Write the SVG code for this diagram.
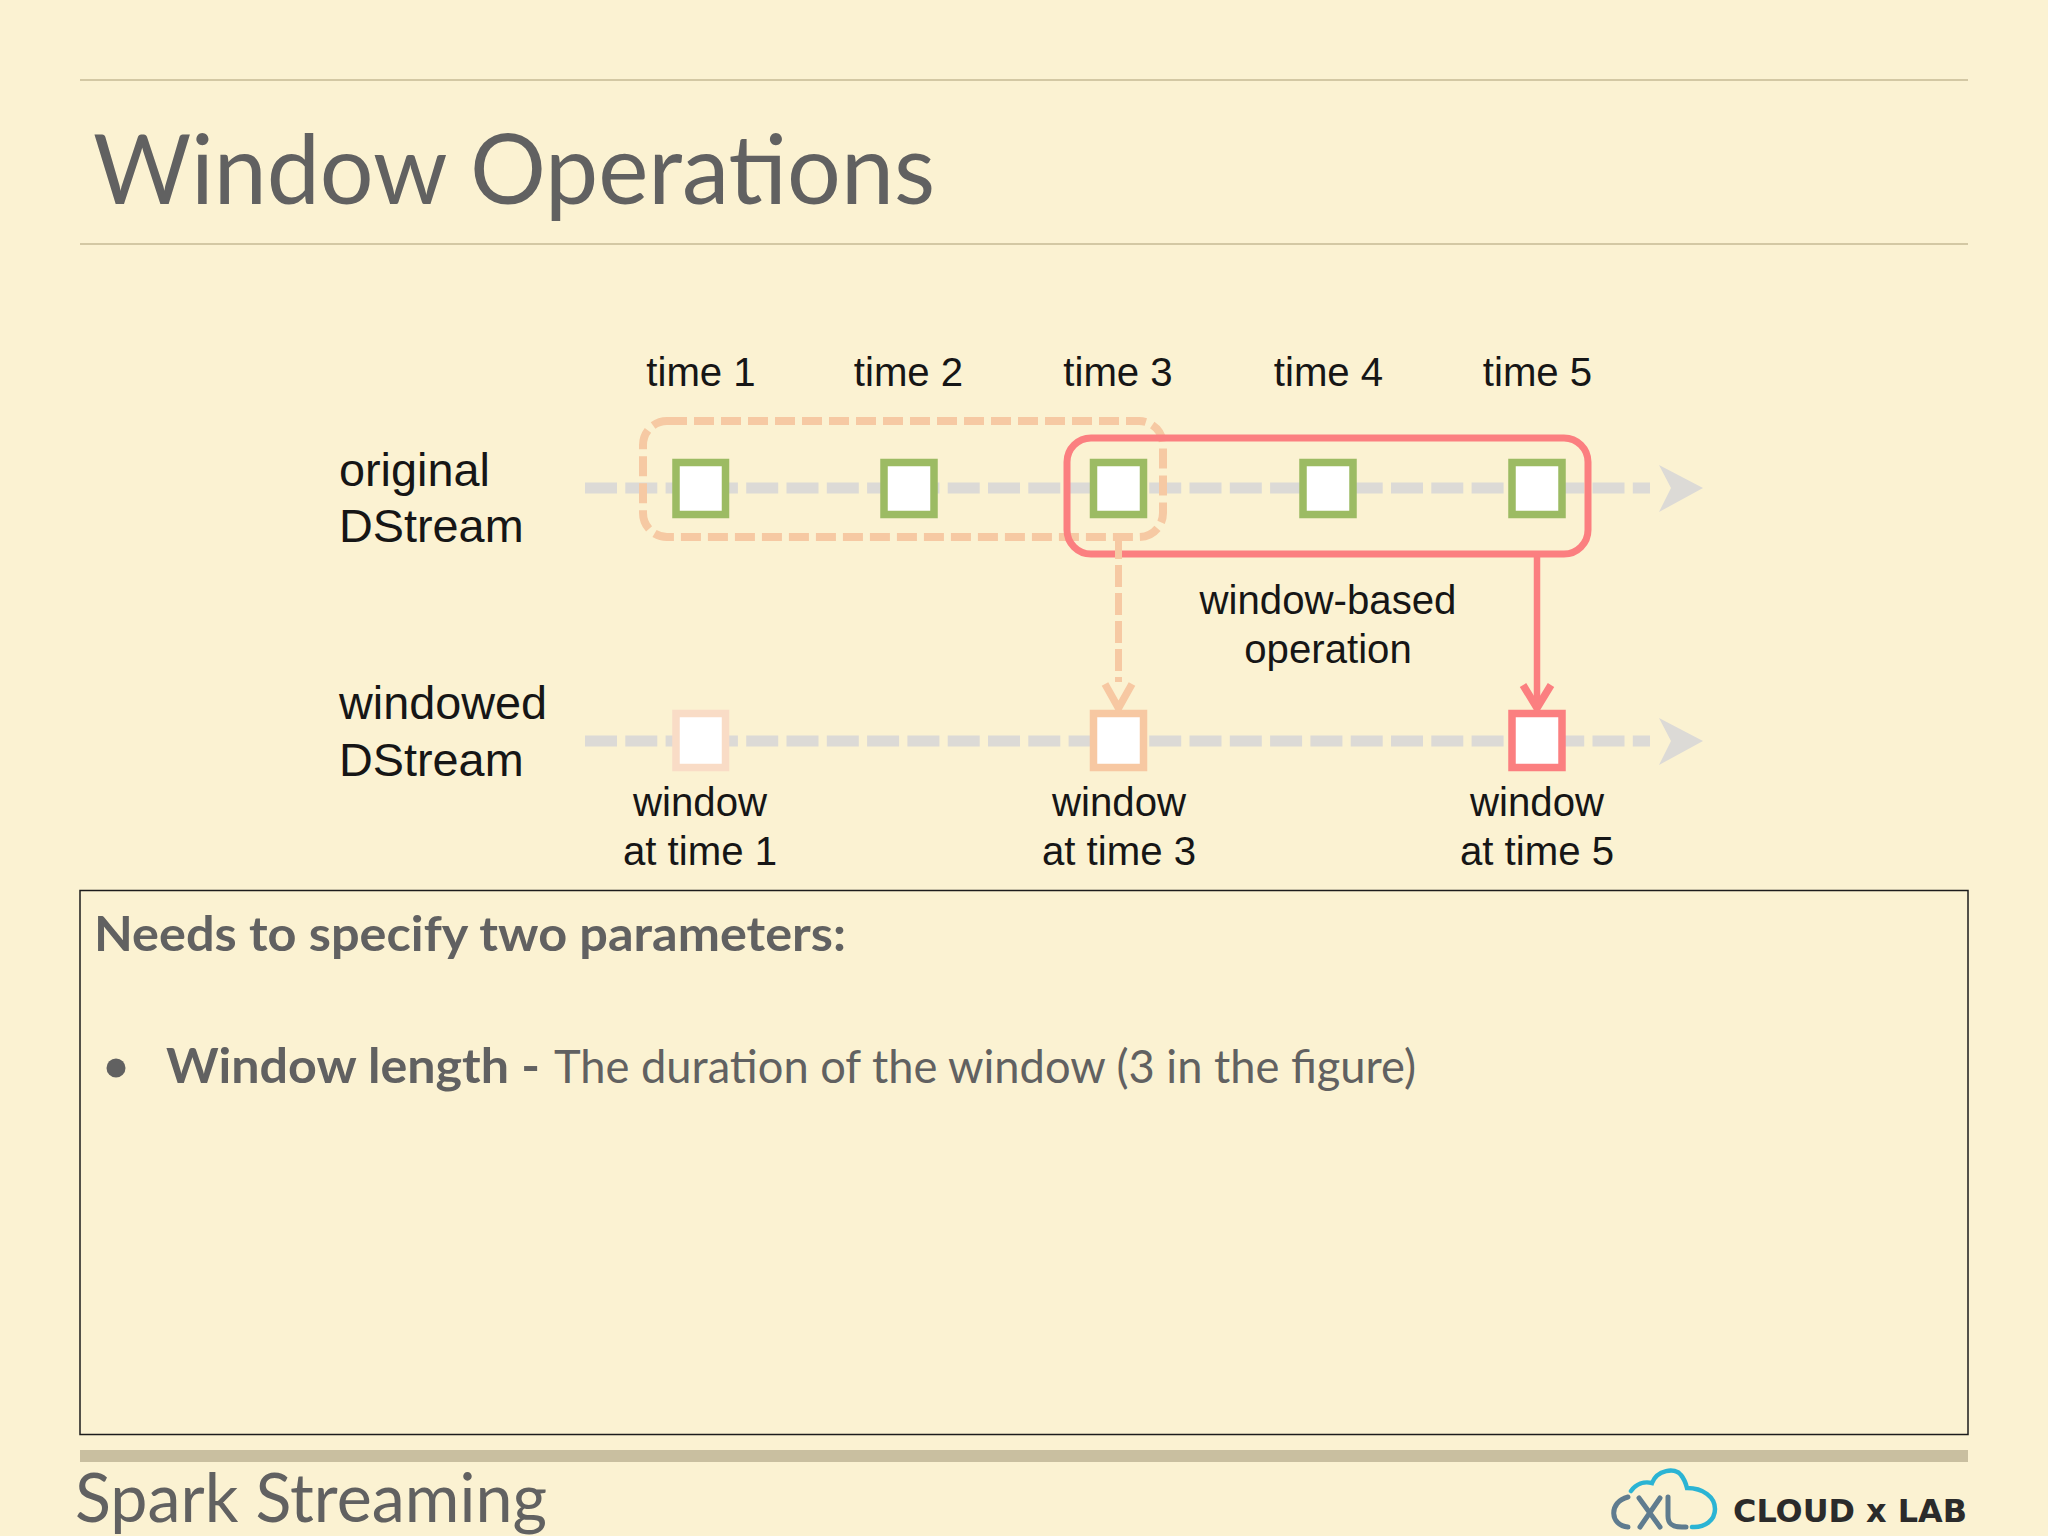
<svg xmlns="http://www.w3.org/2000/svg" width="2048" height="1536" viewBox="0 0 2048 1536">
<defs>
<style>
.g{font-family:"Lato","Open Sans",sans-serif;fill:#616161}
.a{font-family:"Liberation Sans",Arial,sans-serif;fill:#161616;text-anchor:middle;font-size:40.200px}
.l{font-family:"Liberation Sans",Arial,sans-serif;fill:#161616;font-size:46.800px}
.rule{stroke:#d3c8a4;stroke-width:2;fill:none}
.axis{stroke:#dcdad6;stroke-width:11;fill:none;stroke-dasharray:32 8.3}
.axh{fill:#dcdad6}
.sq{fill:#fff;stroke-width:7.500}
.green{stroke:#9cbb63}.pale{stroke:#f9dcc6}.or{stroke:#f7c8a2}.red{stroke:#fb7f80}
.win-o{fill:none;stroke:#f6c9a3;stroke-width:8;stroke-dasharray:20 7}
.win-r{fill:none;stroke:#fb7f80;stroke-width:7}
.c-o{fill:none;stroke:#f6c9a3;stroke-width:7;stroke-dasharray:22 6}
.c-r{fill:none;stroke:#fb7f80;stroke-width:6.500}
.head{fill:none;stroke-width:7.500}
</style>
</defs>
<rect id="background" width="2048" height="1536" fill="#fbf2d2"/>
<g id="slide-frame">
<line class="rule" x1="80" y1="80" x2="1968" y2="80"/>
<line class="rule" x1="80" y1="244" x2="1968" y2="244"/>
<rect x="80" y="1450" width="1888" height="12" fill="#c9bfa0"/>
</g>
<text id="title" class="g" x="93" y="204" font-size="96" textLength="842" lengthAdjust="spacingAndGlyphs">Window Operations</text>

<g id="axes">
<path class="axis" d="M585 488H1650"/>
<polygon class="axh" points="1659,465 1703,488 1659,512 1671,488"/>
<path class="axis" d="M585 741H1650"/>
<polygon class="axh" points="1659,718 1703,741 1659,765 1671,741"/>
</g>

<g id="windows">
<rect id="window-orange" class="win-o" x="643" y="421" width="520" height="116" rx="24"/>
<rect id="window-red" class="win-r" x="1067" y="438" width="521" height="116" rx="24"/>
</g>

<g id="connectors">
<path class="c-o" d="M1118.500 537V682"/>
<path class="head or" d="M1105 684L1118.500 708L1132 684"/>
<path class="c-r" d="M1537 554V708"/>
<path class="head red" d="M1523 685L1537 708L1551 685"/>
</g>

<g id="node-orig-1"><rect class="sq green" x="676" y="462.500" width="49.500" height="52"/></g>
<g id="node-orig-2"><rect class="sq green" x="884" y="462.500" width="50" height="52"/></g>
<g id="node-orig-3"><rect class="sq green" x="1093.500" y="462.500" width="50" height="52"/></g>
<g id="node-orig-4"><rect class="sq green" x="1303" y="462.500" width="50" height="52"/></g>
<g id="node-orig-5"><rect class="sq green" x="1512" y="462.500" width="50" height="52"/></g>
<g id="node-win-1"><rect class="sq pale" x="676" y="713.500" width="49.500" height="54"/></g>
<g id="node-win-3"><rect class="sq or" x="1093.500" y="713.500" width="50" height="54"/></g>
<g id="node-win-5"><rect class="sq red" x="1512" y="713.500" width="50" height="54"/></g>

<g id="labels">
<text class="a" x="701" y="386">time 1</text>
<text class="a" x="908.500" y="386">time 2</text>
<text class="a" x="1118" y="386">time 3</text>
<text class="a" x="1328.500" y="386">time 4</text>
<text class="a" x="1537.500" y="386">time 5</text>
<text class="l" x="339" y="486">original</text>
<text class="l" x="339" y="542">DStream</text>
<text class="l" x="339" y="719">windowed</text>
<text class="l" x="339" y="776">DStream</text>
<text class="a" x="1328" y="614">window-based</text>
<text class="a" x="1328" y="663">operation</text>
<text class="a" x="700" y="816">window</text>
<text class="a" x="700" y="865">at time 1</text>
<text class="a" x="1119" y="816">window</text>
<text class="a" x="1119" y="865">at time 3</text>
<text class="a" x="1537" y="816">window</text>
<text class="a" x="1537" y="865">at time 5</text>
</g>

<g id="note">
<rect x="80" y="890.500" width="1888" height="544" fill="none" stroke="#1c1c1c" stroke-width="1.500"/>
<text class="g" x="94" y="951" font-size="47" font-weight="700" textLength="752" lengthAdjust="spacingAndGlyphs">Needs to specify two parameters:</text>
<circle cx="116" cy="1068" r="9.500" fill="#616161"/>
<text class="g" x="166" y="1083" font-size="47" font-weight="700" textLength="374" lengthAdjust="spacingAndGlyphs">Window length -</text>
<text class="g" x="554" y="1083" font-size="47" textLength="862" lengthAdjust="spacingAndGlyphs">The duration of the window (3 in the figure)</text>
</g>

<text id="footer" class="g" x="75" y="1522" font-size="68" textLength="472" lengthAdjust="spacingAndGlyphs">Spark Streaming</text>

<g id="logo" fill="none" stroke-linecap="round">
<path d="M1631 1491C1636 1484 1644 1481 1652 1483C1657 1470 1675 1467 1681 1475C1685 1480 1686 1484 1687 1488C1703 1488 1715 1497 1715 1509C1715 1520 1705 1528 1692 1527" stroke="#2bb4d4" stroke-width="4.500"/>
<path d="M1628 1497C1608 1502 1610 1526 1628 1527M1639 1498L1660 1527M1660 1498L1640 1527M1668 1497V1516C1668 1524 1672 1527 1682 1527H1686" stroke="#5f7c8f" stroke-width="5"/>
<text x="1733" y="1522" font-family="'DejaVu Sans',sans-serif" font-weight="700" font-size="32" fill="#2b2b2b" stroke="none" textLength="234" lengthAdjust="spacingAndGlyphs">CLOUD x LAB</text>
</g>
</svg>
